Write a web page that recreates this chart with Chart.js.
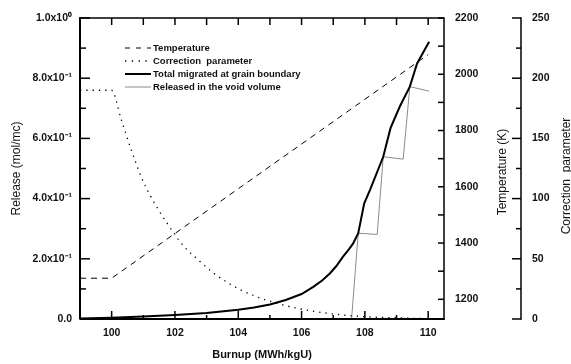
<!DOCTYPE html>
<html>
<head>
<meta charset="utf-8">
<title>Release vs burnup</title>
<script src="https://cdn.jsdelivr.net/npm/chart.js@4.4.1/dist/chart.umd.min.js"></script>
<style>
  html, body { margin:0; padding:0; background:#fff; }
  #wrap { width:571px; height:364px; }
</style>
</head>
<body>
<div id="wrap"><canvas id="chart" width="571" height="364"></canvas></div>
<script>
// Values (x = burnup in MWh/kgU)
const tempBurnup = [99, 100, 110];
const tempValues = [1275, 1275, 2070];

const corrBurnup = [99, 100, 100.3, 100.6, 100.95, 101.21, 101.47, 101.74, 102.0, 102.26, 102.74, 103.2, 103.68, 104.05, 104.58, 104.79, 105.84, 106.9, 107.94, 109.0, 109.9];
const corrValues = [190, 190, 166, 142, 117, 103, 91, 80, 70, 61, 49, 38.5, 30, 24.5, 18.5, 16.5, 9, 4.5, 2, 1, 0.3];

const totalBurnup = [99, 100, 101, 102, 103, 104, 104.5, 105, 105.5, 106, 106.37, 106.65, 106.9, 107.1, 107.31, 107.5, 107.63, 107.79, 107.98, 108.16, 108.58, 108.81, 109.1, 109.42, 109.65, 110.03];
const totalValues = [0.002, 0.004, 0.008, 0.013, 0.02, 0.031, 0.038, 0.048, 0.063, 0.083, 0.107, 0.128, 0.152, 0.176, 0.207, 0.232, 0.251, 0.285, 0.384, 0.428, 0.539, 0.634, 0.705, 0.772, 0.849, 0.921];

const voidBurnup = [99, 107.58, 107.79, 108.39, 108.58, 109.21, 109.42, 110.03];
const voidValues = [0, 0, 0.285, 0.281, 0.539, 0.531, 0.772, 0.757];

// tick positions
const burnupTicks = [100, 101, 102, 103, 104, 105, 106, 107, 108, 109, 110];
const releaseTicks = [0, 0.1, 0.2, 0.3, 0.4, 0.5, 0.6, 0.7, 0.8, 0.9, 1.0];
const tempTicks = [1200, 1300, 1400, 1500, 1600, 1700, 1800, 1900, 2000, 2100, 2200];
const corrTicks = [0, 25, 50, 75, 100, 125, 150, 175, 200, 225, 250];

const FONT = '"Liberation Sans", Arial, sans-serif';

function pts(xs, ys){ return xs.map((x,i)=>({x:x, y:ys[i]})); }
function line(ctx, x1, y1, x2, y2){ ctx.beginPath(); ctx.moveTo(x1,y1); ctx.lineTo(x2,y2); ctx.stroke(); }
function setTicks(list){ return scale => { scale.ticks = list.map(v=>({value:v})); }; }

function releaseLabel(v){
  const n = Math.round(v*10);
  if(n % 2) return '';
  if(n === 0) return '0.0';
  if(n === 10) return '1.0x10\u2070';
  return n.toFixed(1) + 'x10\u207B\u00B9';
}

// frame, inward tick marks, right-hand titles and legend
const decorations = {
  id: 'decorations',
  afterDatasetsDraw(chart){
    const {ctx, chartArea:a, scales} = chart;
    ctx.save();
    ctx.strokeStyle = '#000';
    ctx.lineWidth = 1.5;
    ctx.strokeRect(a.left, a.top, a.right-a.left, a.bottom-a.top);
    ctx.lineWidth = 2;
    line(ctx, a.left, a.top-0.75, a.left, a.bottom);
    line(ctx, a.left, a.bottom, a.right+0.75, a.bottom);

    ctx.lineWidth = 1.5;
    scales.x.ticks.forEach(t=>{
      const px = scales.x.getPixelForValue(t.value);
      line(ctx, px, a.bottom, px, a.bottom - (t.value % 2 === 0 ? 8 : 4));
      line(ctx, px, a.top, px, a.top + 7);
    });
    scales.y.ticks.forEach(t=>{
      const py = scales.y.getPixelForValue(t.value);
      line(ctx, a.left, py, a.left + (Math.round(t.value*10) % 2 === 0 ? 10 : 6), py);
    });
    scales.yT.ticks.forEach(t=>{
      const py = scales.yT.getPixelForValue(t.value);
      line(ctx, a.right, py, a.right - 6, py);
    });
    const c = scales.yC;
    line(ctx, c.left, a.top - 0.75, c.left, a.bottom + 0.75);
    c.ticks.forEach(t=>{
      const py = c.getPixelForValue(t.value);
      line(ctx, c.left, py, c.left - (t.value % 50 === 0 ? 9 : 5), py);
    });

    // right titles read bottom-to-top like the left one
    ctx.fillStyle = '#111';
    ctx.font = '12px ' + FONT;
    ctx.textAlign = 'center';
    ctx.textBaseline = 'middle';
    [['Temperature (K)', scales.yT.left + 59, 172], ['Correction  parameter', c.left + 46, 176]].forEach(([txt,x,y])=>{
      ctx.save(); ctx.translate(x,y); ctx.rotate(-Math.PI/2); ctx.fillText(txt,0,0); ctx.restore();
    });

    // legend
    ctx.font = 'bold 9.5px ' + FONT;
    ctx.textAlign = 'left';
    const rows = [48, 61, 74, 87];
    chart.data.datasets.forEach((ds,i)=>{
      const y = rows[i];
      ctx.save();
      ctx.strokeStyle = ds.borderColor;
      ctx.lineWidth = ds.borderWidth;
      ctx.setLineDash(ds.legendDash || []);
      line(ctx, 125, y, 151, y);
      ctx.restore();
      ctx.fillText(ds.label, 153, y);
    });
    ctx.restore();
  }
};

const tickFont = {family: FONT, size: 10.5, weight: 'bold'};

new Chart(document.getElementById('chart'), {
  type: 'line',
  data: {
    datasets: [
      { label: 'Temperature', data: pts(tempBurnup, tempValues), yAxisID: 'yT',
        borderColor: '#000', borderWidth: 1, borderDash: [6,5], legendDash: [5,6], tension: 0 },
      { label: 'Correction  parameter', data: pts(corrBurnup, corrValues), yAxisID: 'yC',
        borderColor: '#000', borderWidth: 1.3, borderDash: [1.3,5], legendDash: [1.3,5.5], cubicInterpolationMode: 'monotone' },
      { label: 'Total migrated at grain boundary', data: pts(totalBurnup, totalValues), yAxisID: 'y',
        borderColor: '#000', borderWidth: 2, tension: 0 },
      { label: 'Released in the void volume', data: pts(voidBurnup, voidValues), yAxisID: 'y',
        borderColor: '#8c8c8c', borderWidth: 1, tension: 0 }
    ]
  },
  options: {
    responsive: false,
    devicePixelRatio: 1,
    animation: false,
    layout: { padding: { top: 18, left: 0, right: 0, bottom: 0 } },
    elements: { point: { radius: 0 } },
    plugins: { legend: { display: false }, tooltip: { enabled: false } },
    scales: {
      x: {
        type: 'linear', position: 'bottom', min: 99, max: 110.5,
        afterBuildTicks: setTicks(burnupTicks),
        afterFit: s => { s.height = 45; },
        grid: { display: false, drawTicks: false },
        border: { display: false },
        ticks: { autoSkip: false, maxRotation: 0, padding: 8, color: '#111', font: tickFont,
                 callback: v => v % 2 === 0 ? String(v) : '' },
        title: { display: true, text: 'Burnup (MWh/kgU)', color: '#111',
                 font: {family: FONT, size: 11, weight: 'bold'}, padding: {top: 0, bottom: 2} }
      },
      y: {
        type: 'linear', position: 'left', min: 0, max: 1,
        afterBuildTicks: setTicks(releaseTicks),
        afterFit: s => { s.width = 80; },
        grid: { display: false, drawTicks: false },
        border: { display: false },
        ticks: { autoSkip: false, padding: 8, color: '#111', font: tickFont, callback: releaseLabel },
        title: { display: true, text: 'Release (mol/mc)', color: '#111',
                 font: {family: FONT, size: 12}, padding: {top: 9, bottom: 0} }
      },
      yT: {
        type: 'linear', position: 'right', min: 1130, max: 2200,
        afterBuildTicks: setTicks(tempTicks),
        afterFit: s => { s.width = 77; },
        grid: { display: false, drawTicks: false },
        border: { display: false },
        ticks: { autoSkip: false, padding: 11, color: '#111', font: tickFont,
                 callback: v => v % 200 === 0 ? String(v) : '' }
      },
      yC: {
        type: 'linear', position: 'right', min: 0, max: 250,
        afterBuildTicks: setTicks(corrTicks),
        afterFit: s => { s.width = 50; },
        grid: { display: false, drawTicks: false },
        border: { display: false },
        ticks: { autoSkip: false, padding: 11, color: '#111', font: tickFont,
                 callback: v => v % 50 === 0 ? String(v) : '' }
      }
    }
  },
  plugins: [decorations]
});
</script>
</body>
</html>
